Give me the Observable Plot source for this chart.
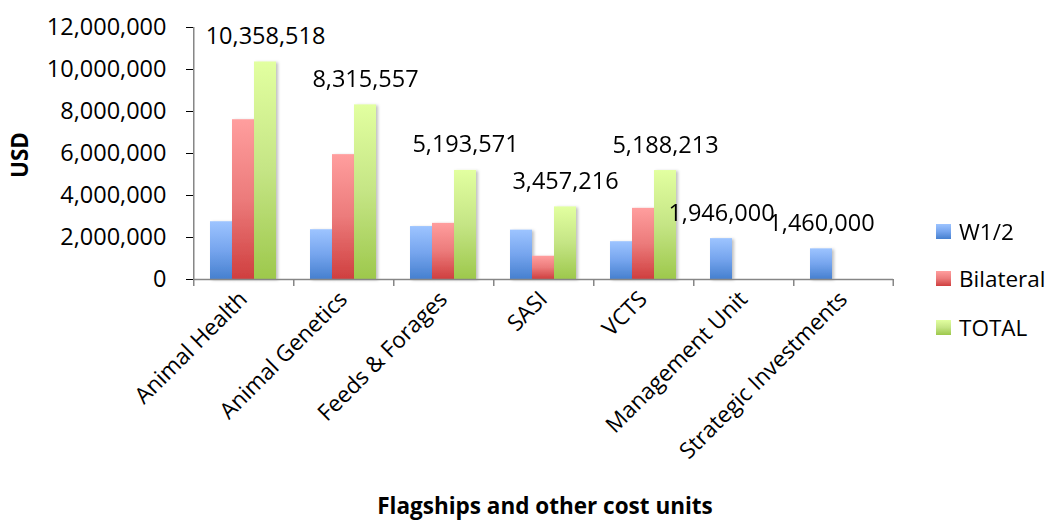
<!DOCTYPE html>
<html><head><meta charset="utf-8">
<script src="https://cdn.jsdelivr.net/npm/d3@7"></script>
<script src="https://cdn.jsdelivr.net/npm/@observablehq/plot@0.6"></script>
<style>
html,body{margin:0;padding:0;background:#fff;}
#wrap{position:relative;width:1048px;height:523px;font-family:"Open Sans", Lato, sans-serif;color:#000;overflow:hidden;}
#chart{position:absolute;left:0;top:0;}
#chart svg g[aria-label="y-axis tick"]{stroke:#868686;}
#chart svg g[aria-label="y-axis tick label"]{font-size:23.5px;}
.ylab{position:absolute;left:20px;top:155px;transform:translate(-50%,-50%) rotate(-90deg);font-weight:bold;font-size:22.5px;white-space:nowrap;line-height:1;}
.xlab{position:absolute;left:545px;top:495px;transform:translateX(-50%);font-weight:bold;font-size:22.5px;white-space:nowrap;line-height:1;}
.leg{position:absolute;left:936px;height:26px;display:flex;align-items:center;font-size:22.5px;white-space:nowrap;}
.leg .sw{width:15px;height:15px;margin-right:8px;}
</style>
</head><body>
<div id="wrap"><div id="chart"></div></div>
<script>
const categories = ["Animal Health","Animal Genetics","Feeds & Forages","SASI","VCTS","Management Unit","Strategic Investments"];
const series = ["W1/2","Bilateral","TOTAL"];
const w12 = [2750000, 2370000, 2520000, 2350000, 1800000, 1946000, 1460000];
const bilateral = [7608518, 5945557, 2673571, 1107216, 3388213, null, null];
const total = [10358518, 8315557, 5193571, 3457216, 5188213, null, null];
const labelValues = [10358518, 8315557, 5193571, 3457216, 5188213, 1946000, 1460000];
const yTicks = [0, 2000000, 4000000, 6000000, 8000000, 10000000, 12000000];
const gradStops = {
  "W1/2": ["#9DC4FF", "#76A5EE", "#4680CF"],
  "Bilateral": ["#FF9E9E", "#EC7B7B", "#CF3F3F"],
  "TOTAL": ["#E2FFA0", "#C5E585", "#9DC84C"]
};
const gradId = {"W1/2": "gW", "Bilateral": "gB", "TOTAL": "gT"};

const W = 1048, H = 523, mL = 192, mR = 155, mT = 27, mB = 244;
const po = 0.742;
const facetW = (W - mL - mR) / categories.length;
const step = facetW / (series.length + 2 * po);
const edge = (po + 0.5) * step;
const yMax = yTicks[yTicks.length - 1];
const yPerPx = yMax / (H - mT - mB);
const tickLen = 7;

const columns = [w12, bilateral, total];
const rows = [];
categories.forEach((c, i) => {
  columns.forEach((col, j) => {
    if (col[i] != null) rows.push({category: c, series: series[j], value: col[i]});
  });
});
const labels = categories.map((c, i) => ({
  category: c,
  series: total[i] != null ? "TOTAL" : "W1/2",
  value: labelValues[i]
}));

const fmt = d3.format(",");
const axisColor = "#868686";

const plot = Plot.plot({
  width: W, height: H,
  marginLeft: mL, marginRight: mR, marginTop: mT, marginBottom: mB,
  style: {fontFamily: "'Open Sans', Lato, sans-serif", fontSize: "22.5px", color: "#000", background: "transparent", overflow: "visible"},
  fx: {domain: categories, padding: 0, axis: "bottom", label: null, tickRotate: -45, tickSize: 0, tickPadding: 16},
  x: {domain: series, paddingInner: 0, paddingOuter: po, axis: null},
  y: {domain: [0, yMax], ticks: yTicks, tickFormat: fmt, tickSize: 7, tickPadding: 20, label: null},
  marks: [
    ...series.map(s => Plot.barY(rows.filter(r => r.series === s), {
      fx: "category", x: "series", y: "value", fill: `url(#${gradId[s]})`
    })),
    Plot.ruleY([0], {stroke: axisColor, strokeWidth: 1.5}),
    Plot.ruleX(categories, {fx: d => d, x: () => series[0], dx: -edge, y1: 0, y2: -tickLen * yPerPx, stroke: axisColor, strokeWidth: 1.5}),
    Plot.ruleX([categories[categories.length - 1]], {fx: d => d, x: () => series[series.length - 1], dx: edge, y1: 0, y2: -tickLen * yPerPx, stroke: axisColor, strokeWidth: 1.5}),
    Plot.ruleX([categories[0]], {fx: d => d, x: () => series[0], dx: -edge, y1: 0, y2: yMax, stroke: axisColor, strokeWidth: 1.5}),
    Plot.text(labels, {fx: "category", x: "series", y: "value", text: d => fmt(d.value), dy: -18, lineAnchor: "bottom", fontSize: 23.5, fill: "#000"})
  ]
});

const svg = d3.select(plot);
const defs = svg.insert("defs", ":first-child");
series.forEach(s => {
  const g = defs.append("linearGradient").attr("id", gradId[s]).attr("x1", 0).attr("y1", 0).attr("x2", 0).attr("y2", 1);
  gradStops[s].forEach((c, k, a) => g.append("stop").attr("offset", k / (a.length - 1)).attr("stop-color", c));
});
const f = defs.append("filter").attr("id", "shadow").attr("x", "-20%").attr("y", "-20%").attr("width", "150%").attr("height", "150%");
f.append("feDropShadow").attr("dx", 2).attr("dy", 1).attr("stdDeviation", 1.5).attr("flood-color", "#000").attr("flood-opacity", 0.25);
svg.selectAll('g[aria-label="bar"]').attr("filter", "url(#shadow)");

document.getElementById("chart").appendChild(plot);

const wrap = document.getElementById("wrap");
const yl = document.createElement("div"); yl.className = "ylab"; yl.textContent = "USD"; wrap.appendChild(yl);
const xl = document.createElement("div"); xl.className = "xlab"; xl.textContent = "Flagships and other cost units"; wrap.appendChild(xl);
const legTops = [218, 265, 314];
series.forEach((s, i) => {
  const d = document.createElement("div");
  d.className = "leg";
  d.style.top = legTops[i] + "px";
  const sw = document.createElement("span");
  sw.className = "sw";
  sw.style.background = `linear-gradient(${gradStops[s].join(",")})`;
  d.appendChild(sw);
  const t = document.createElement("span"); t.textContent = s; d.appendChild(t);
  wrap.appendChild(d);
});
</script>
</body></html>
